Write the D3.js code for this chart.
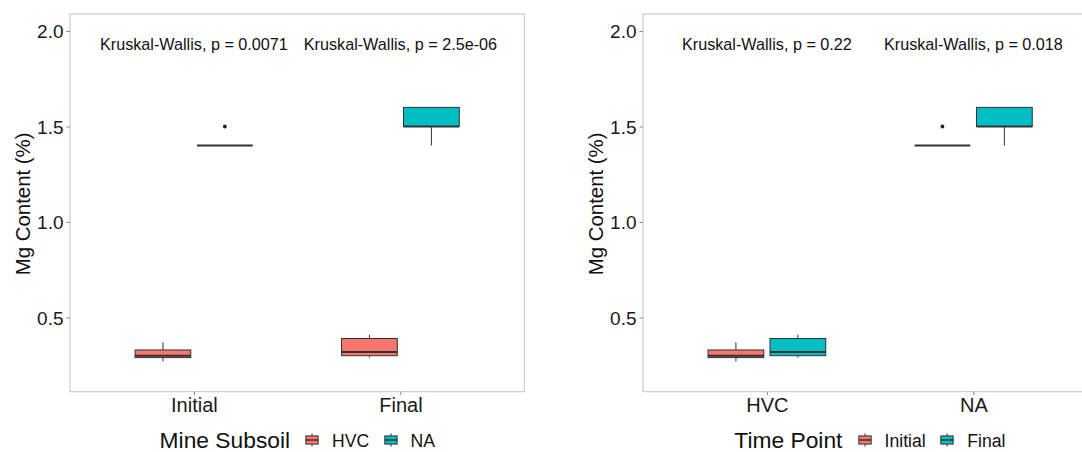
<!DOCTYPE html>
<html>
<head>
<meta charset="utf-8">
<script src="https://cdn.jsdelivr.net/npm/d3@7"></script>
<style>
  html, body { margin: 0; padding: 0; background: #fff; }
  svg { display: block; font-family: "Liberation Sans", Arial, sans-serif; }
</style>
</head>
<body>
<svg id="chart" width="1082" height="452"></svg>
<script>
// ---------------- data ----------------
const subsoils = ["HVC", "NA"];
const timePoints = ["Initial", "Final"];

// one entry per (subsoil, time point) combination
const comboSubsoil = ["HVC", "HVC", "NA", "NA"];
const comboTime    = ["Initial", "Final", "Initial", "Final"];
const whiskerLow   = [0.27, 0.29, 1.40, 1.40];
const q1           = [0.29, 0.30, 1.40, 1.50];
const median       = [0.30, 0.32, 1.40, 1.50];
const q3           = [0.33, 0.39, 1.40, 1.60];
const whiskerHigh  = [0.37, 0.41, 1.40, 1.60];
const outliers     = [[], [], [1.50], []];

const yTicks = [0.5, 1.0, 1.5, 2.0];
const yDomain = [0.1115, 2.089];

const pLabelsLeft  = ["Kruskal-Wallis, p = 0.0071", "Kruskal-Wallis, p = 2.5e-06"]; // by time point
const pLabelsRight = ["Kruskal-Wallis, p = 0.22", "Kruskal-Wallis, p = 0.018"];     // by subsoil

const fillColors = ["#F8766D", "#00BFC4"];
const yTitle = "Mg Content (%)";

// --------------- drawing ---------------
const svg = d3.select("#chart");
const FONT = '"Liberation Sans", Arial, sans-serif';

const panelW = 454.3, panelTop = 14, panelBottom = 391.7;
const y = d3.scaleLinear().domain(yDomain).range([panelBottom, panelTop]);

const rows = comboSubsoil.map((s, i) => ({
  subsoil: s, time: comboTime[i],
  lo: whiskerLow[i], q1: q1[i], med: median[i], q3: q3[i], hi: whiskerHigh[i],
  out: outliers[i]
}));

function drawPanel(x0, xCats, xKey, fillCats, fillKey, pLabels, legendTitle, legendPos) {
  const g = svg.append("g");
  const x = d3.scalePoint().domain(xCats).range([x0, x0 + panelW]).padding(0.6);
  const step = x.step();
  const dodge = d3.scaleBand().domain(fillCats)
    .range([-0.3 * step, 0.3 * step]).paddingInner(0.1).paddingOuter(0.05);
  const color = d3.scaleOrdinal().domain(fillCats).range(fillColors);

  // panel border
  g.append("rect")
    .attr("x", x0).attr("y", panelTop)
    .attr("width", panelW).attr("height", panelBottom - panelTop)
    .attr("fill", "none").attr("stroke", "#c2c2c2").attr("stroke-width", 1);

  // y axis
  const yAxis = d3.axisLeft(y).tickValues(yTicks).tickFormat(d3.format(".1f"))
    .tickSize(3.5).tickPadding(3);
  const ya = g.append("g").attr("transform", `translate(${x0},0)`).call(yAxis);
  ya.select(".domain").remove();
  ya.selectAll(".tick line").attr("stroke", "#888");
  ya.selectAll(".tick text").attr("font-size", 19).attr("fill", "#1a1a1a")
    .attr("font-family", FONT).attr("dy", "0.36em");

  // x axis
  const xAxis = d3.axisBottom(x).tickSize(3.5).tickPadding(3);
  const xa = g.append("g").attr("transform", `translate(0,${panelBottom})`).call(xAxis);
  xa.select(".domain").remove();
  xa.selectAll(".tick line").attr("stroke", "#888");
  xa.selectAll(".tick text").attr("font-size", 20).attr("fill", "#1a1a1a")
    .attr("font-family", FONT).attr("dy", null).attr("y", 20.8);

  // y title
  g.append("text")
    .attr("transform", `translate(${x0 - 40},${(panelTop + panelBottom) / 2 + 1}) rotate(-90)`)
    .attr("text-anchor", "middle").attr("font-size", 20.4).attr("fill", "#111")
    .text(yTitle);

  // boxes
  const bw = dodge.bandwidth();
  rows.forEach(r => {
    const cx = x(r[xKey]) + dodge(r[fillKey]) + bw / 2;
    const bx = cx - bw / 2;
    const bg = g.append("g");
    // whiskers
    bg.append("line").attr("x1", cx).attr("x2", cx)
      .attr("y1", y(r.hi)).attr("y2", y(r.q3))
      .attr("stroke", "#333").attr("stroke-width", 1);
    bg.append("line").attr("x1", cx).attr("x2", cx)
      .attr("y1", y(r.q1)).attr("y2", y(r.lo))
      .attr("stroke", "#333").attr("stroke-width", 1);
    // box
    bg.append("rect").attr("x", bx).attr("width", bw)
      .attr("y", y(r.q3)).attr("height", Math.max(0, y(r.q1) - y(r.q3)))
      .attr("fill", color(r[fillKey])).attr("stroke", "#333").attr("stroke-width", 1);
    // median
    bg.append("line").attr("x1", bx).attr("x2", bx + bw)
      .attr("y1", y(r.med)).attr("y2", y(r.med))
      .attr("stroke", "#333").attr("stroke-width", 2);
    // outliers
    r.out.forEach(o => {
      bg.append("circle").attr("cx", cx).attr("cy", y(o)).attr("r", 1.9).attr("fill", "#222");
    });
  });

  // Kruskal-Wallis labels
  xCats.forEach((c, i) => {
    g.append("text").attr("x", x(c)).attr("y", 50)
      .attr("text-anchor", "middle").attr("font-size", 16.2).attr("fill", "#111")
      .text(pLabels[i]);
  });

  // legend
  const lg = g.append("g");
  lg.append("text").attr("x", legendPos.title).attr("y", 448.3)
    .attr("font-size", 22.8).attr("fill", "#111").text(legendTitle);
  const k = 16.4, ky = 440;
  fillCats.forEach((c, i) => {
    const kx = legendPos.keys[i];
    lg.append("line").attr("x1", kx).attr("x2", kx)
      .attr("y1", ky - 0.4 * k).attr("y2", ky + 0.4 * k)
      .attr("stroke", "#333").attr("stroke-width", 1);
    lg.append("rect").attr("x", kx - 0.375 * k).attr("y", ky - 0.25 * k)
      .attr("width", 0.75 * k).attr("height", 0.5 * k)
      .attr("fill", color(c)).attr("stroke", "#333").attr("stroke-width", 1);
    lg.append("line").attr("x1", kx - 0.375 * k).attr("x2", kx + 0.375 * k)
      .attr("y1", ky).attr("y2", ky).attr("stroke", "#333").attr("stroke-width", 1.5);
    lg.append("text").attr("x", legendPos.labels[i]).attr("y", 446.7)
      .attr("font-size", 17.6).attr("fill", "#111").text(c);
  });
}

drawPanel(70, timePoints, "time", subsoils, "subsoil", pLabelsLeft, "Mine Subsoil",
  { title: 159.6, keys: [312, 391], labels: [332, 410.5] });
drawPanel(643, subsoils, "subsoil", timePoints, "time", pLabelsRight, "Time Point",
  { title: 734.3, keys: [865, 947], labels: [884.6, 967.3] });
</script>
</body>
</html>
